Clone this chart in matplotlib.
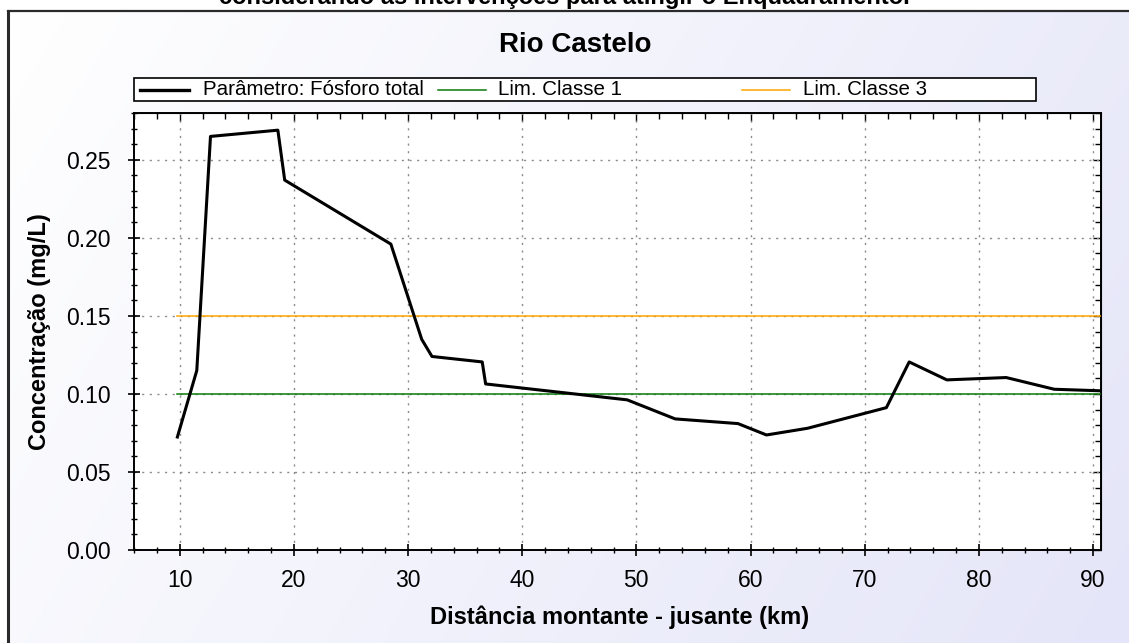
import numpy as np
import matplotlib
matplotlib.use("Agg")
import matplotlib.pyplot as plt
from matplotlib.lines import Line2D
from matplotlib.patches import Rectangle
from matplotlib.ticker import MultipleLocator, FormatStrFormatter

# ---------------- data ----------------
distance_km = [9.8, 11.5, 12.7, 18.6, 19.2, 28.5, 31.2, 32.1, 36.5, 36.8,
               49.2, 53.4, 58.9, 61.4, 65.0, 71.9, 73.9, 77.2, 82.4, 86.6, 90.7]
fosforo_total = [0.0724, 0.115, 0.265, 0.269, 0.237, 0.196, 0.135, 0.124, 0.1205, 0.1064,
                 0.0962, 0.084, 0.081, 0.0737, 0.078, 0.0912, 0.1205, 0.109, 0.1105, 0.103, 0.102]
lim_classe1 = 0.10
lim_classe3 = 0.15
legend_labels = ["Parâmetro: Fósforo total", "Lim. Classe 1", "Lim. Classe 3"]
chart_title = "Rio Castelo"
top_title = "considerando as intervenções para atingir o Enquadramento."
x_label = "Distância montante - jusante (km)"
y_label = "Concentração (mg/L)"

# ---------------- figure ----------------
W, H = 1129, 643
plt.rcParams['font.family'] = ['Liberation Sans', 'DejaVu Sans']
fig = plt.figure(figsize=(W / 100, H / 100), dpi=100, facecolor='white')

def fx(px):
    return px / W

def fy(py):
    return 1 - py / H

# background gradient inside the frame
bg = fig.add_axes([0, 0, 1, 1], zorder=-10)
bg.set_xlim(0, 1)
bg.set_ylim(0, 1)
bg.axis('off')
nx, ny = 300, 200
xx, yy = np.meshgrid(np.linspace(0, 1, nx), np.linspace(0, 1, ny))
t = np.clip(0.75 * xx + 0.25 * yy, 0, 1)[..., None]
c0 = np.array([1.0, 1.0, 1.0])
c1 = np.array([228, 229, 248]) / 255
img = c0 * (1 - t) + c1 * t
bg.imshow(img, extent=[fx(8), 1, 0, fy(11)], aspect='auto', origin='upper', zorder=0)
bg.add_line(Line2D([fx(8), fx(8)], [0, fy(11)], color='#2a2a2a', lw=2.2, zorder=2))
bg.add_line(Line2D([fx(8), 1], [fy(11), fy(11)], color='#2a2a2a', lw=1.6, zorder=2))

# titles
fig.text(0.5, fy(4), top_title, ha='center', va='baseline', fontsize=17, fontweight='bold')
fig.text(fx(575), fy(45), chart_title, ha='center', va='center', fontsize=20, fontweight='bold')

# main axes
ax = fig.add_axes([fx(134), fy(550), fx(1101) - fx(134), fy(113) - fy(550)])
ax.set_facecolor('white')
ax.plot([distance_km[0], distance_km[-1]], [lim_classe3, lim_classe3], color='#FFA500', lw=1.1, zorder=3)
ax.plot([distance_km[0], distance_km[-1]], [lim_classe1, lim_classe1], color='#0a7a0a', lw=1.1, zorder=3)
ax.plot(distance_km, fosforo_total, color='black', lw=2.2, zorder=4)

ax.set_xlim(6, 90.7)
ax.set_ylim(0, 0.28)
ax.xaxis.set_major_locator(MultipleLocator(10))
ax.xaxis.set_minor_locator(MultipleLocator(2))
ax.yaxis.set_major_locator(MultipleLocator(0.05))
ax.yaxis.set_minor_locator(MultipleLocator(0.01))
ax.yaxis.set_major_formatter(FormatStrFormatter('%.2f'))
ax.grid(True, which='major', color='#8a8a8a', linestyle=(0, (1.5, 4)), lw=1.0)
for s in ax.spines.values():
    s.set_linewidth(1.4)
    s.set_color('black')

ax.tick_params(axis='x', which='major', direction='inout', length=9, width=1.2, labelsize=16.5, pad=9)
ax.tick_params(axis='x', which='minor', direction='inout', length=4.5, width=1.0)
ax.tick_params(axis='y', which='major', direction='inout', length=8, width=1.2, labelsize=16.5, pad=13)
ax.tick_params(axis='y', which='minor', direction='inout', length=5, width=1.0)

secx = ax.secondary_xaxis('top')
secx.xaxis.set_major_locator(MultipleLocator(10))
secx.xaxis.set_minor_locator(MultipleLocator(2))
secx.tick_params(which='major', direction='in', length=6, width=1.0, labeltop=False)
secx.tick_params(which='minor', direction='in', length=4, width=1.0)
secy = ax.secondary_yaxis('right')
secy.yaxis.set_major_locator(MultipleLocator(0.05))
secy.yaxis.set_minor_locator(MultipleLocator(0.01))
secy.tick_params(which='major', direction='in', length=6, width=1.0, labelright=False)
secy.tick_params(which='minor', direction='in', length=4, width=1.0)

fig.text(fx(620), fy(617), x_label, ha='center', va='center', fontsize=17, fontweight='bold')
fig.text(fx(40), fy(332), y_label, ha='center', va='center', rotation=90, fontsize=17, fontweight='bold')

# legend box (manual layout)
lg = fig.add_axes([0, 0, 1, 1], zorder=5)
lg.set_xlim(0, 1)
lg.set_ylim(0, 1)
lg.axis('off')
lg.add_patch(Rectangle((fx(134), fy(101)), fx(1036) - fx(134), fy(78) - fy(101),
                       facecolor='white', edgecolor='black', lw=1.2))
handle_styles = [('black', 2.4), ('#0a7a0a', 1.1), ('#FFA500', 1.1)]
handle_x = [(140, 189), (438, 486), (742, 790)]
text_x = [203, 498, 803]
for (hc, hw), (h0, h1), tx, lab in zip(handle_styles, handle_x, text_x, legend_labels):
    lg.add_line(Line2D([fx(h0), fx(h1)], [fy(89.5), fy(89.5)], color=hc, lw=hw))
    lg.text(fx(tx), fy(89.5), lab, ha='left', va='center', fontsize=14.8)

fig.savefig('out.png', dpi=100, facecolor=fig.get_facecolor())
